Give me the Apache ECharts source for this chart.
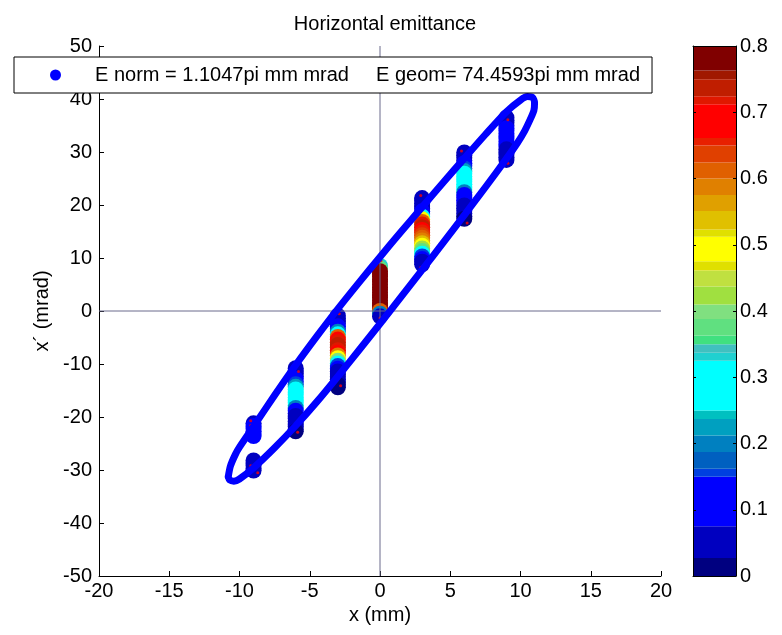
<!DOCTYPE html>
<html><head><meta charset="utf-8">
<script src="https://cdn.jsdelivr.net/npm/echarts@6/dist/echarts.min.js"></script>
<style>html,body{margin:0;padding:0;background:#fff}#c{width:782px;height:635px}</style>
</head><body><div id="c"></div>
<script>
// ---------- data ----------
const titleText = 'Horizontal emittance';
const xName = 'x (mm)';
const yName = 'x\u00B4 (mrad)';
const legendParts = ['E norm = 1.1047pi mm mrad', 'E geom= 74.4593pi mm mrad'];

const slitX = [-9, -6, -3, 0, 3, 6, 9];
// [x', intensity] per slit, listed top to bottom
const colM9 = [[-21.2,0.05],[-21.7,0.09],[-22.2,0.10],[-22.7,0.11],[-23.2,0.11],[-23.6,0.10],
               [-28.2,0.07],[-28.7,0.05],[-29.2,0.04],[-29.7,0.03],[-30.1,0.03]];
const colM6 = [[-10.8,0.03],[-11.3,0.04],[-11.8,0.05],[-12.3,0.06],[-12.8,0.08],[-13.3,0.12],[-13.8,0.15],
               [-14.3,0.22],[-14.8,0.26],[-15.3,0.30],[-15.8,0.31],[-16.3,0.32],[-16.8,0.32],[-17.3,0.31],
               [-17.8,0.26],[-18.3,0.20],[-18.8,0.12],[-19.3,0.08],[-19.8,0.06],[-20.3,0.05],[-20.8,0.04],
               [-21.3,0.04],[-21.8,0.03],[-22.3,0.03],[-22.7,0.02]];
const colM3 = [[-0.9,0.03],[-1.4,0.04],[-1.9,0.05],[-2.4,0.06],[-2.9,0.08],[-3.4,0.12],[-3.9,0.20],
               [-4.4,0.25],[-4.9,0.62],[-5.4,0.68],[-5.9,0.72],[-6.4,0.74],[-6.9,0.74],[-7.4,0.72],
               [-7.9,0.68],[-8.4,0.58],[-8.9,0.48],[-9.4,0.40],[-9.9,0.30],[-10.4,0.15],[-10.9,0.10],
               [-11.4,0.06],[-11.9,0.05],[-12.4,0.04],[-12.9,0.03],[-13.4,0.03],[-13.9,0.02],[-14.4,0.02]];
const col0  = [[8.5,0.33],[8.0,0.38],[7.5,0.78],[7.0,0.80],[6.5,0.80],[6.0,0.80],[5.5,0.80],[5.0,0.80],
               [4.5,0.80],[4.0,0.80],[3.5,0.80],[3.0,0.80],[2.5,0.79],[2.0,0.78],[1.5,0.78],[1.0,0.77],
               [0.5,0.77],[0.0,0.62],[-0.5,0.20],[-1.0,0.03]];
const colP3 = [[21.3,0.03],[20.8,0.03],[20.3,0.05],[19.8,0.05],[19.3,0.06],[18.8,0.08],[18.3,0.12],
               [17.8,0.30],[17.3,0.50],[16.8,0.62],[16.3,0.72],[15.8,0.73],[15.3,0.70],[14.8,0.66],
               [14.3,0.64],[13.8,0.60],[13.3,0.58],[12.8,0.55],[12.3,0.50],[11.8,0.42],[11.3,0.38],
               [10.8,0.25],[10.3,0.15],[9.8,0.10],[9.3,0.06],[8.8,0.03]];
const colP6 = [[29.9,0.03],[29.4,0.04],[28.9,0.05],[28.4,0.06],[27.9,0.08],[27.4,0.12],[26.9,0.15],
               [26.4,0.22],[25.9,0.26],[25.4,0.30],[24.9,0.31],[24.4,0.32],[23.9,0.31],[23.4,0.30],
               [22.9,0.27],[22.4,0.20],[21.9,0.14],[21.4,0.12],[20.9,0.11],[20.4,0.10],[19.9,0.06],
               [19.4,0.05],[18.9,0.04],[18.4,0.04],[17.9,0.03],[17.4,0.02]];
const colP9 = [[36.5,0.03],[36.0,0.04],[35.5,0.05],[35.0,0.06],[34.5,0.08],[34.0,0.10],[33.5,0.12],
               [33.0,0.13],[32.5,0.13],[32.0,0.12],[31.5,0.10],[31.0,0.08],[30.5,0.06],[30.0,0.05],
               [29.5,0.04],[29.0,0.03],[28.5,0.03]];
const slitCols = [colM9, colM6, colM3, col0, colP3, colP6, colP9];

// fitted emittance ellipse outline [x, x']
const ellipse = [[-10.8,-31.3],[-10.65,-29.3],[-10.3,-27.1],[-10.0,-25.7],[-9.0,-21.8],[-7.5,-15.9],
  [-6.0,-10.2],[-4.5,-4.8],[-3.0,0.4],[-1.5,5.35],[0.0,10.2],[1.5,14.95],[3.0,19.6],[4.5,24.25],
  [6.0,28.8],[7.5,33.3],[9.0,37.6],[10.0,39.8],[10.5,40.45],[10.85,40.3],[11.0,39.3],[10.95,37.8],
  [10.7,36.2],[10.3,34.0],[9.8,31.8],[9.0,28.75],[7.5,23.35],[6.0,18.1],[4.5,12.9],[3.0,7.75],
  [1.5,2.65],[0.0,-2.4],[-1.5,-7.4],[-3.0,-12.35],[-4.5,-17.15],[-6.0,-21.65],[-7.5,-25.8],
  [-9.0,-29.6],[-10.0,-31.7],[-10.4,-32.1],[-10.7,-31.9],[-10.8,-31.3]];

// small red marks at the profile edges
const redMarks = [[-9.2,-20.7],[-9.2,-21.6],[-9.2,-29.2],[-8.7,-30.5],[-5.8,-11.4],[-5.86,-22.9],
  [-2.9,-0.5],[-2.8,-14.1],[0.07,9.5],[0.0,-1.3],[2.9,21.8],[2.9,8.2],[5.8,30.2],[6.2,16.6],
  [9.1,36.1],[9.1,27.9]];

const vLine = [[0,-50],[0,50]];
const hLine = [[-20,0],[20,0]];

// colour bar bands
const cbLow  = [0,0.027,0.075,0.15,0.162,0.187,0.212,0.237,0.25,0.325,0.337,0.35,0.363,0.388,0.41,
                0.437,0.461,0.475,0.512,0.523,0.551,0.575,0.6,0.624,0.65,0.661,0.712,0.724,0.75,0.763];
const cbHigh = [0.027,0.075,0.15,0.162,0.187,0.212,0.237,0.25,0.325,0.337,0.35,0.363,0.388,0.41,0.437,
                0.461,0.475,0.512,0.523,0.551,0.575,0.6,0.624,0.65,0.661,0.712,0.724,0.75,0.763,0.8];
const cbColors = ['#000080','#0000C0','#0000FF','#0040E0','#0060C0','#0080C0','#00A0C0','#00C0C0',
                  '#00FFFF','#20D0D0','#40C0C0','#40E080','#60E080','#80E080','#A0E040','#C0E040',
                  '#E0E000','#FFFF00','#E0E000','#E0C000','#E0A000','#E08000','#E06000','#E04000',
                  '#E82000','#FF0000','#E01800','#C01E00','#A01800','#800000'];

// ---------- chart ----------
const FONT = "'Liberation Sans', Arial, sans-serif";
const scatterData = [];
slitCols.forEach((col, i) => col.forEach(p => scatterData.push([slitX[i], p[0], p[1]])));
const pieces = cbLow.map((lo, i) => i === cbLow.length - 1
  ? {gte: lo, lte: cbHigh[i], color: cbColors[i]}
  : {gte: lo, lt: cbHigh[i], color: cbColors[i]});
const seriesName = legendParts.join('   ');

const chart = echarts.init(document.getElementById('c'), null, {renderer: 'canvas'});
chart.setOption({
  animation: false,
  backgroundColor: '#fff',
  textStyle: {fontFamily: FONT, color: '#000'},
  title: {text: titleText, left: 380, top: 9, textAlign: 'center',
          textStyle: {fontFamily: FONT, fontSize: 20, fontWeight: 'normal', color: '#000'}},
  legend: {
    data: [{name: seriesName, icon: 'circle'}],
    left: 14, top: 57, orient: 'horizontal',
    padding: [7, 12, 7, 36],
    itemWidth: 11, itemHeight: 11,
    backgroundColor: '#fff', borderColor: '#000', borderWidth: 1,
    selectedMode: false, z: 20,
    formatter: () => '{s|}{a|' + legendParts[0] + '}{b|' + legendParts[1] + '}',
    textStyle: {fontFamily: FONT, fontSize: 20, color: '#000', lineHeight: 22,
      rich: {s: {width: 29}, a: {width: 281, fontSize: 20, fontFamily: FONT},
             b: {width: 264, fontSize: 20, fontFamily: FONT}}}
  },
  grid: [
    {left: 99, top: 46, width: 562, height: 530},
    {left: 693, top: 46, width: 43, height: 530}
  ],
  xAxis: [
    {gridIndex: 0, type: 'value', min: -20, max: 20, interval: 5,
     name: xName, nameLocation: 'middle', nameGap: 26,
     nameTextStyle: {fontFamily: FONT, fontSize: 20, color: '#000'},
     axisLine: {onZero: false, lineStyle: {color: '#000', width: 1}},
     axisTick: {inside: true, length: 5, lineStyle: {color: '#000'}},
     axisLabel: {margin: 5, fontFamily: FONT, fontSize: 20, color: '#000'},
     splitLine: {show: false}},
    {gridIndex: 1, type: 'value', min: 0, max: 1, position: 'bottom', z: 10,
     axisLine: {onZero: false, lineStyle: {color: '#000'}}, axisTick: {show: false},
     axisLabel: {show: false}, splitLine: {show: false}},
    {gridIndex: 1, type: 'value', min: 0, max: 1, position: 'top', z: 10,
     axisLine: {onZero: false, lineStyle: {color: '#000'}}, axisTick: {show: false},
     axisLabel: {show: false}, splitLine: {show: false}}
  ],
  yAxis: [
    {gridIndex: 0, type: 'value', min: -50, max: 50, interval: 10,
     name: yName, nameLocation: 'middle', nameGap: 46, nameRotate: 90,
     nameTextStyle: {fontFamily: FONT, fontSize: 20, color: '#000'},
     axisLine: {onZero: false, lineStyle: {color: '#000', width: 1}},
     axisTick: {inside: true, length: 5, lineStyle: {color: '#000'}},
     axisLabel: {margin: 7, fontFamily: FONT, fontSize: 20, color: '#000'},
     splitLine: {show: false}},
    {gridIndex: 1, type: 'value', min: 0, max: 0.8, interval: 0.1, position: 'left', z: 10,
     axisLine: {onZero: false, lineStyle: {color: '#000'}},
     axisTick: {inside: true, length: 3, lineStyle: {color: '#000'}},
     axisLabel: {show: false}, splitLine: {show: false}},
    {gridIndex: 1, type: 'value', min: 0, max: 0.8, interval: 0.1, position: 'right', z: 10,
     axisLine: {onZero: false, lineStyle: {color: '#000'}},
     axisTick: {inside: true, length: 3, lineStyle: {color: '#000'}},
     axisLabel: {margin: 4, fontFamily: FONT, fontSize: 20, color: '#000',
                 formatter: v => String(Math.round(v * 10) / 10)},
     splitLine: {show: false}}
  ],
  visualMap: {type: 'piecewise', show: false, seriesIndex: 0, dimension: 2, pieces: pieces},
  series: [
    {type: 'scatter', name: 'profiles', data: scatterData, symbol: 'circle', symbolSize: 16,
     itemStyle: {opacity: 1}, z: 2, silent: true, large: false},
    {type: 'scatter', name: 'marks', data: redMarks, symbolSize: 3,
     itemStyle: {color: '#ff0000'}, z: 3, silent: true},
    {type: 'line', name: 'v0', data: vLine, showSymbol: false, z: 4, silent: true,
     lineStyle: {color: '#6a6a8c', width: 1}},
    {type: 'line', name: 'h0', data: hLine, showSymbol: false, z: 4, silent: true,
     lineStyle: {color: '#6a6a8c', width: 1}},
    {type: 'line', name: seriesName, data: ellipse, showSymbol: false, smooth: 0.25, z: 5, silent: true,
     color: '#0000FF', itemStyle: {color: '#0000FF'},
     lineStyle: {color: '#0000FF', width: 7, cap: 'round', join: 'round'}},
    {type: 'custom', name: 'colorbar', xAxisIndex: 1, yAxisIndex: 2, silent: true, z: 2,
     data: cbLow.map((lo, i) => [lo, cbHigh[i], i]),
     encode: {y: [0, 1]},
     renderItem: (params, api) => {
       const lo = api.value(0), hi = api.value(1), idx = api.value(2);
       const p0 = api.coord([0, hi]);
       const p1 = api.coord([1, lo]);
       return {type: 'rect',
               shape: {x: p0[0], y: p0[1], width: p1[0] - p0[0], height: p1[1] - p0[1]},
               style: {fill: cbColors[idx]}};
     }}
  ]
});
</script>
</body></html>
